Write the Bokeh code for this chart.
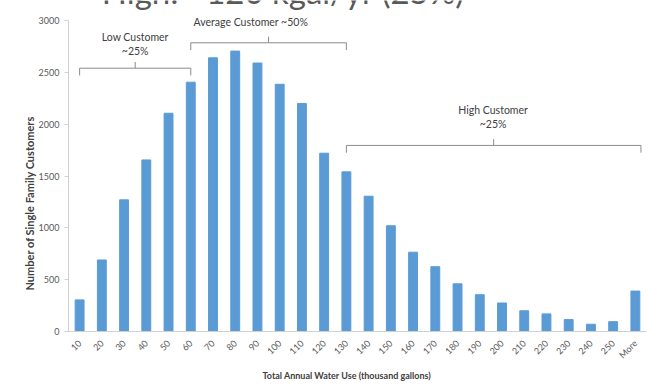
from math import pi

from bokeh.embed import file_html
from bokeh.models import FactorRange, Label, Range1d, Title
from bokeh.plotting import figure
from bokeh.resources import INLINE

# Histogram bins (thousand gallons per year) and customer counts
categories = ["10", "20", "30", "40", "50", "60", "70", "80", "90", "100",
              "110", "120", "130", "140", "150", "160", "170", "180", "190",
              "200", "210", "220", "230", "240", "250", "More"]
customers = [305, 690, 1270, 1655, 2105, 2405, 2640, 2705, 2590, 2385,
             2200, 1720, 1540, 1305, 1020, 765, 625, 460, 355, 275,
             200, 170, 115, 70, 95, 390]
y_ticks = [0, 500, 1000, 1500, 2000, 2500, 3000]

# Customer-group brackets: span along the bins, height of the bar line
group_names = [["Low Customer", "~25%"], ["Average Customer ~50%"],
               ["High Customer", "~25%"]]
group_start = [0.5, 5.5, 12.5]
group_end = [5.5, 12.5, 25.75]
group_level = [2540, 2785, 1795]

FONT = "Lato"
TEXT = "#404040"
GREY = "#8c8c8c"

# plot area reaches the top edge so the heading and captions can sit above 3000
p = figure(x_range=FactorRange(*categories, range_padding=0),
           y_range=Range1d(0, 3193),
           width=650, height=390,
           output_backend="svg", toolbar_location=None,
           min_border_left=68, min_border_right=4,
           min_border_top=0, min_border_bottom=59)
p.outline_line_color = None
p.xgrid.visible = False
p.ygrid.visible = False
p.background_fill_color = "white"
p.border_fill_color = "white"

p.vbar(x=categories, top=customers, width=0.4, color="#5B9BD5")

# axes
p.yaxis.bounds = (0, 3000)
p.yaxis.ticker = y_ticks
p.yaxis.axis_line_color = "#d0d0d0"
p.yaxis.major_tick_line_color = "#d0d0d0"
p.yaxis.major_tick_out = 4
p.yaxis.major_tick_in = 0
p.yaxis.minor_tick_line_color = None
p.yaxis.major_label_text_font = FONT
p.yaxis.major_label_text_font_size = "9px"
p.yaxis.major_label_text_color = "#595959"
p.yaxis.major_label_standoff = 5

p.xaxis.axis_line_color = "#d0d0d0"
p.xaxis.major_tick_line_color = None
p.xaxis.major_label_orientation = pi / 4
p.xaxis.major_label_text_font = FONT
p.xaxis.major_label_text_font_size = "9px"
p.xaxis.major_label_text_color = "#595959"
p.xaxis.major_label_standoff = 4

# axis titles
p.add_layout(Title(text="Number of Single Family Customers", align="left",
                   offset=41, standoff=0, text_font=FONT,
                   text_font_size="11px", text_font_style="bold",
                   text_color=TEXT), "left")
p.add_layout(Title(text="Total Annual Water Use (thousand gallons)",
                   align="left", offset=194, standoff=0, text_font=FONT,
                   text_font_size="9px", text_font_style="bold",
                   text_color=TEXT), "below")

# brackets with a small centre stem
drop = 70
stem = 60
xs, ys, sx0, sy0, sx1, sy1 = [], [], [], [], [], []
for a, b, lvl in zip(group_start, group_end, group_level):
    xs.append([a, a, b, b])
    ys.append([lvl - drop, lvl, lvl, lvl - drop])
    mid = (a + b) / 2
    sx0.append(mid); sy0.append(lvl); sx1.append(mid); sy1.append(lvl + stem)
p.multi_line(xs=xs, ys=ys, line_color=GREY, line_width=1)
p.segment(x0=sx0, y0=sy0, x1=sx1, y1=sy1, line_color=GREY, line_width=1)

# bracket captions
caption_x = [3.0, 8.2, 19.1]
caption_y = [[2845, 2710], [2989], [2141, 2003]]
for names, cx, cys in zip(group_names, caption_x, caption_y):
    for name, cy in zip(names, cys):
        p.add_layout(Label(x=cx, y=cy, text=name, text_align="center",
                           text_baseline="middle", text_font=FONT,
                           text_font_size="10.5px", text_color=TEXT))

# slide heading running off the top edge
p.add_layout(Label(x=1.5, y=3285, text="High: ~120 kgal/yr (25%)",
                   text_align="left", text_baseline="alphabetic",
                   text_font=FONT, text_font_size="33px",
                   text_color="#595959"))

open("out.html", "w").write(file_html(p, INLINE))
